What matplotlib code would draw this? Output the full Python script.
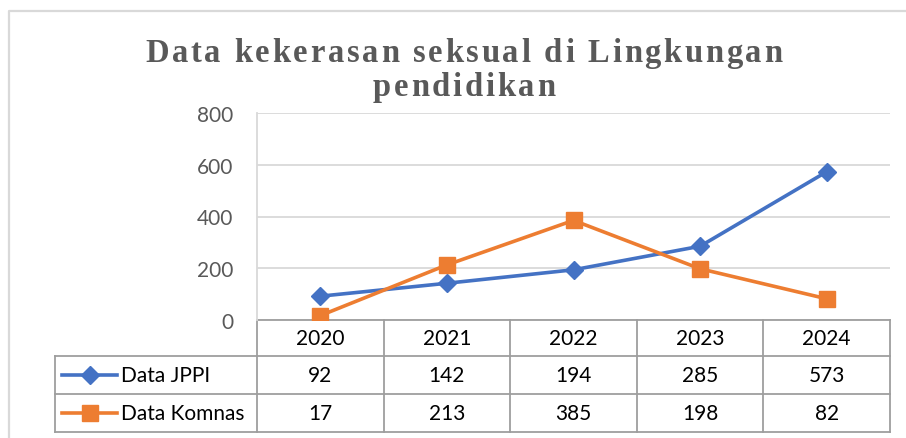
import matplotlib
matplotlib.use("Agg")
import matplotlib.pyplot as plt
from matplotlib.lines import Line2D
from matplotlib.transforms import blended_transform_factory
from matplotlib.font_manager import FontProperties

years = ["2020", "2021", "2022", "2023", "2024"]
jppi = [92, 142, 194, 285, 573]
komnas = [17, 213, 385, 198, 82]
series_names = ["Data JPPI", "Data Komnas"]
title_lines = ["Data kekerasan seksual di Lingkungan", "pendidikan"]

BLUE = "#4472C4"
ORANGE = "#ED7D31"
GRID = "#D9D9D9"
TABLE = "#9E9E9E"
TXT = "#595959"
FONT = "Lato"
FS = 15

W, H = 906, 439
fig = plt.figure(figsize=(W / 100, H / 100), dpi=100)


def fx(x):
    return x / W


def fy(y):
    return 1 - y / H


# outer frame of the chart area
fig.add_artist(Line2D([fx(9), fx(9), fx(906)], [fy(439), fy(12), fy(12)],
                      color=GRID, lw=1.6, transform=fig.transFigure))

# plot area
ax = fig.add_axes([fx(257), fy(321), fx(890) - fx(257), fy(114) - fy(321)])
x = list(range(len(years)))
ax.plot(x, jppi, color=BLUE, lw=2.6, marker="D", ms=9, zorder=3)
ax.plot(x, komnas, color=ORANGE, lw=2.6, marker="s", ms=11, zorder=3)
ax.set_xlim(-0.5, len(years) - 0.5)
ax.set_ylim(0, 800)
ax.set_yticks(range(0, 801, 200))
ax.set_xticks([])
ax.grid(axis="y", color=GRID, lw=1.3)
ax.set_axisbelow(True)
for s in ["top", "right", "bottom"]:
    ax.spines[s].set_visible(False)
ax.spines["left"].set_color(GRID)
ax.spines["left"].set_linewidth(1.3)
ax.tick_params(axis="y", length=0, pad=17, labelsize=FS, labelcolor=TXT)
for lab in ax.get_yticklabels():
    lab.set_fontfamily(FONT)

# data table under the plot
tr = blended_transform_factory(ax.transData, fig.transFigure)
row_y = [321, 357, 395, 433]
left_x = 55
xl, xr = -0.5, len(years) - 0.5
ax.add_artist(Line2D([xl, xr], [fy(row_y[0])] * 2, color=TABLE, lw=1.3,
                     transform=tr, clip_on=False))
for yy in row_y[1:]:
    fig.add_artist(Line2D([fx(left_x), fx(890)], [fy(yy)] * 2, color=TABLE,
                          lw=1.3, transform=fig.transFigure))
for i in range(len(years) + 1):
    ax.add_artist(Line2D([i - 0.5] * 2, [fy(row_y[0]), fy(row_y[3])],
                         color=TABLE, lw=1.3, transform=tr, clip_on=False))
fig.add_artist(Line2D([fx(left_x)] * 2, [fy(row_y[1]), fy(row_y[3])],
                      color=TABLE, lw=1.3, transform=fig.transFigure))

for i, yr in enumerate(years):
    ax.text(i, fy((row_y[0] + row_y[1]) / 2), yr, transform=tr, ha="center",
            va="center", fontsize=FS, family=FONT, color="black")
    ax.text(i, fy((row_y[1] + row_y[2]) / 2), str(jppi[i]), transform=tr,
            ha="center", va="center", fontsize=FS, family=FONT, color="black")
    ax.text(i, fy((row_y[2] + row_y[3]) / 2), str(komnas[i]), transform=tr,
            ha="center", va="center", fontsize=FS, family=FONT, color="black")

# legend keys inside the table
for k, (name, col, mk, ms) in enumerate(zip(series_names, [BLUE, ORANGE],
                                            ["D", "s"], [9, 11])):
    yc = fy((row_y[k + 1] + row_y[k + 2]) / 2)
    fig.add_artist(Line2D([fx(62), fx(117)], [yc, yc], color=col, lw=2.6,
                          transform=fig.transFigure))
    fig.add_artist(Line2D([fx(89.5)], [yc], color=col, marker=mk, ms=ms,
                          transform=fig.transFigure))
    fig.text(fx(121), yc, name, ha="left", va="center", fontsize=FS,
             family=FONT, color="black")

# letter-spaced title
renderer = fig.canvas.get_renderer()
tprop = FontProperties(family="Liberation Serif", weight="bold", size=23.5)


def width(s):
    return renderer.get_text_width_height_descent(s, tprop, ismath=False)[0]


def advances(s):
    base = width("HH")
    return [width("H" + c + "H") - base for c in s]


adv0 = advances(title_lines[0])
spacing = (637 - sum(adv0)) / (len(title_lines[0]) - 1)
for line, base_y in zip(title_lines, [62, 96]):
    adv = advances(line)
    total = sum(adv) + spacing * (len(line) - 1)
    xpos = 464 - total / 2
    for c, a in zip(line, adv):
        if c != " ":
            fig.text(fx(xpos), fy(base_y), c, fontproperties=tprop, color=TXT,
                     ha="left", va="baseline")
        xpos += a + spacing

fig.savefig("out.png", dpi=100)
